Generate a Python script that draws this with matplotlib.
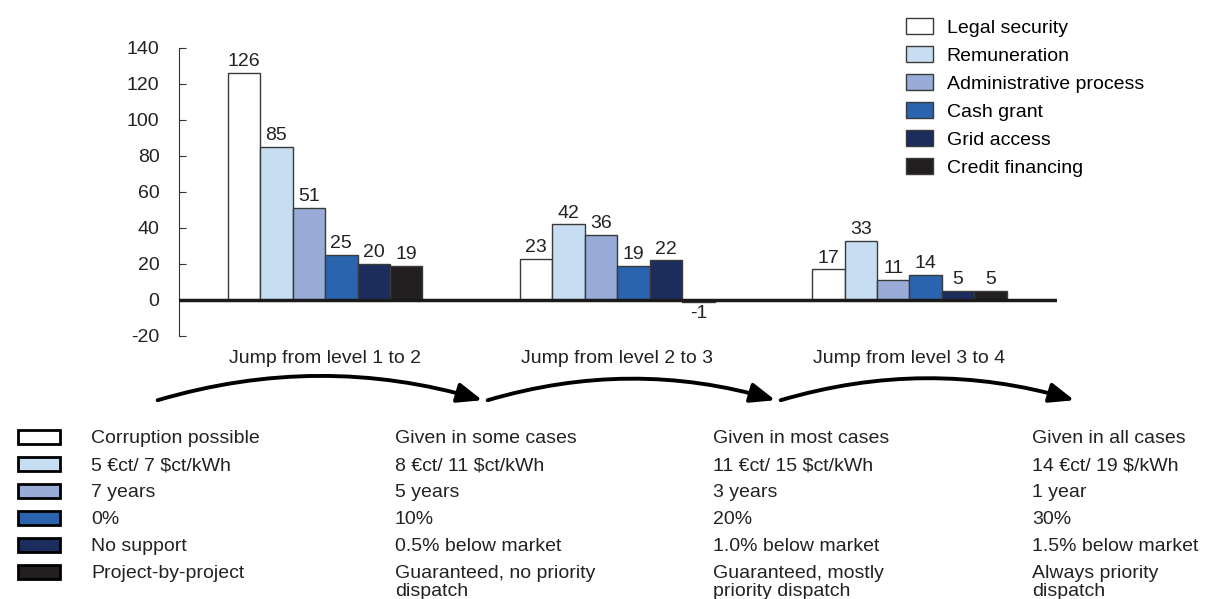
import matplotlib.pyplot as plt
import numpy as np
from matplotlib.patches import Rectangle, FancyArrowPatch

plt.rcParams['font.family'] = ['Liberation Sans', 'DejaVu Sans']
plt.rcParams['axes.unicode_minus'] = False

# chart data
groups = ['Jump from level 1 to 2', 'Jump from level 2 to 3', 'Jump from level 3 to 4']
series = ['Legal security', 'Remuneration', 'Administrative process',
          'Cash grant', 'Grid access', 'Credit financing']
legal_security = [126, 23, 17]
remuneration = [85, 42, 33]
admin_process = [51, 36, 11]
cash_grant = [25, 19, 14]
grid_access = [20, 22, 5]
credit_financing = [19, -1, 5]
colors = ['#FFFFFF', '#C7DDF1', '#98ACD7', '#2A64AF', '#1C2C5D', '#231F20']

# level descriptions under the chart
level1 = ['Corruption possible', '5 €ct/ 7 $ct/kWh', '7 years', '0%',
          'No support', 'Project-by-project']
level2 = ['Given in some cases', '8 €ct/ 11 $ct/kWh', '5 years', '10%',
          '0.5% below market', 'Guaranteed, no priority\ndispatch']
level3 = ['Given in most cases', '11 €ct/ 15 $ct/kWh', '3 years', '20%',
          '1.0% below market', 'Guaranteed, mostly\npriority dispatch']
level4 = ['Given in all cases', '14 €ct/ 19 $/kWh', '1 year', '30%',
          '1.5% below market', 'Always priority\ndispatch']

FS = 14
W, H = 1205, 599
fig = plt.figure(figsize=(W / 100, H / 100), dpi=100)
ax = fig.add_axes([179 / W, 1 - 336 / H, (1057 - 179) / W, (336 - 48) / H])

values = [legal_security, remuneration, admin_process, cash_grant, grid_access, credit_financing]
x = np.arange(len(groups))
width = 0.111
bars = []
for i, (name, vals) in enumerate(zip(series, values)):
    b = ax.bar(x + (i - 2.5) * width, vals, width, color=colors[i],
               edgecolor='#3a3a3a', linewidth=1, label=name, zorder=2)
    ax.bar_label(b, padding=2, fontsize=FS, color='#222222')
    bars.append(b)

ax.axhline(0, color='#1a1a1a', linewidth=2.5, zorder=3)
ax.set_xlim(-0.5, 2.505)
ax.set_ylim(-20, 140)
ax.set_yticks(range(-20, 141, 20))
ax.set_xticks(x)
ax.set_xticklabels(groups)
for s in ['top', 'right', 'bottom']:
    ax.spines[s].set_visible(False)
ax.spines['left'].set_color('#333333')
ax.tick_params(axis='y', direction='in', length=5, pad=14, labelsize=FS,
               color='#333333', labelcolor='#222222')
ax.tick_params(axis='x', length=0, pad=10, labelsize=FS, labelcolor='#222222')

fig.legend(handles=bars, labels=series, loc='upper left',
           bbox_to_anchor=(906 / W, 1 - 18 / H), frameon=False, fontsize=FS,
           handlelength=1.4, handleheight=0.88, handletextpad=0.7,
           labelspacing=0.48, borderpad=0, borderaxespad=0)

# overlay in pixel coordinates for the arrows and the level table
ov = fig.add_axes([0, 0, 1, 1])
ov.set_xlim(0, W)
ov.set_ylim(H, 0)
ov.axis('off')

for x0, x1 in [(155, 485), (485, 778), (778, 1077)]:
    ov.add_patch(FancyArrowPatch((x0, 401), (x1, 401),
                                 connectionstyle='arc3,rad=-0.15',
                                 arrowstyle='-|>,head_length=0.75,head_width=0.3',
                                 mutation_scale=20, lw=2.8, color='black'))

rows = [437, 464, 491, 518, 545, 572]
for y, c in zip(rows, colors):
    ov.add_patch(Rectangle((18, y - 7), 42, 14, facecolor=c,
                           edgecolor='black', linewidth=2))

for cx, col in zip([91, 395, 713, 1032], [level1, level2, level3, level4]):
    for y, t in zip(rows, col):
        ov.text(cx, y - 7, t, fontsize=FS, color='#222222', va='top',
                ha='left', linespacing=1.05)

fig.savefig('out.png', dpi=100)
